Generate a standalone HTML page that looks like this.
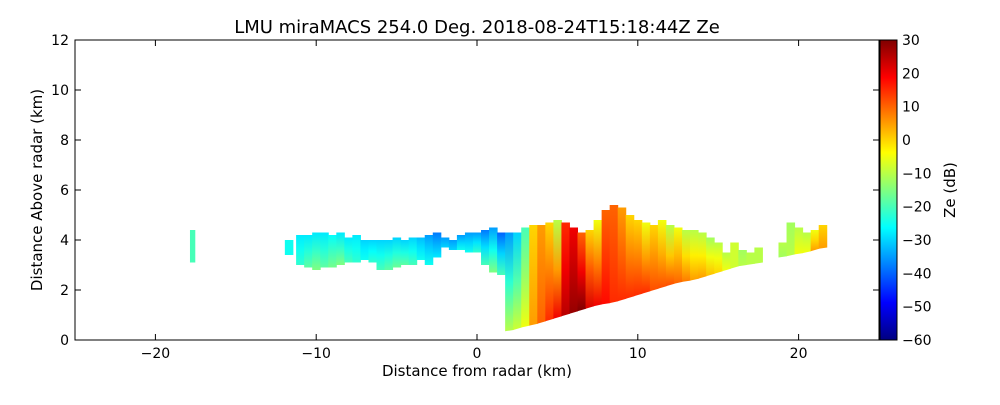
<!DOCTYPE html>
<html><head><meta charset="utf-8"><style>
body{margin:0;background:#fff;font-family:"Liberation Sans","DejaVu Sans",sans-serif}
svg text{font-family:"DejaVu Sans","Liberation Sans",sans-serif}
</style></head><body>
<svg id="c" width="1000" height="400" xmlns="http://www.w3.org/2000/svg">
<defs id="defs"></defs>
<text x="477" y="33" font-size="18" text-anchor="middle">LMU miraMACS 254.0 Deg. 2018-08-24T15:18:44Z  Ze</text>
<g id="echo"></g>
<rect x="75" y="40" width="804" height="300" fill="none" stroke="#000" stroke-width="1"/>
<g id="axes"></g>
<text x="477" y="376" font-size="15" text-anchor="middle">Distance from radar (km)</text>
<text transform="translate(42,190) rotate(-90)" font-size="15" text-anchor="middle">Distance Above radar  (km)</text>
<rect id="cbar" x="880" y="40" width="17" height="300" stroke="#000" stroke-width="1"/>
<text transform="translate(955,190) rotate(-90)" font-size="15" text-anchor="middle">Ze (dB)</text>
</svg>
<script>
const xs=[-17.7,-11.7,-11,-10.5,-10,-9.5,-9,-8.5,-8,-7.5,-7,-6.5,-6,-5.5,-5,-4.5,-4,-3.5,-3,-2.5,-2,-1.5,-1,-0.5,0,0.5,1,1.5,2,2.5,3,3.5,4,4.5,5,5.5,6,6.5,7,7.5,8,8.5,9,9.5,10,10.5,11,11.5,12,12.5,13,13.5,14,14.5,15,15.5,16,16.5,17,17.5,19,19.5,20,20.5,21,21.5];
const bottoms=[3.1,3.4,3.0,2.9,2.8,2.9,2.9,3.0,3.1,3.1,3.2,3.1,2.8,2.8,2.9,3.0,3.0,3.2,3.0,3.3,3.7,3.6,3.6,3.5,3.5,3.0,2.7,2.6,0.35,0.45,0.55,0.6,0.7,0.8,0.9,1.0,1.1,1.2,1.3,1.4,1.45,1.5,1.6,1.7,1.8,1.9,2.0,2.1,2.2,2.3,2.35,2.4,2.5,2.6,2.7,2.8,2.9,3.0,3.0,3.1,3.3,3.4,3.45,3.5,3.6,3.7];
const tops=[4.4,4.0,4.2,4.2,4.3,4.3,4.2,4.3,4.1,4.2,4.0,4.0,4.0,4.0,4.1,4.0,4.1,4.1,4.2,4.3,4.1,4.0,4.2,4.3,4.3,4.4,4.5,4.3,4.3,4.3,4.5,4.6,4.6,4.7,4.8,4.7,4.5,4.3,4.4,4.8,5.2,5.4,5.3,5.0,4.8,4.7,4.6,4.8,4.6,4.5,4.4,4.4,4.3,4.1,3.9,3.5,3.9,3.6,3.5,3.7,3.9,4.7,4.5,4.3,4.4,4.6];
const zeBottom=[-20,-25,-22,-18,-15,-18,-16,-15,-20,-22,-25,-22,-20,-18,-17,-18,-20,-25,-25,-28,-30,-30,-25,-25,-22,-20,-15,-20,-10,-8,-5,5,10,15,20,25,28,30,22,20,18,15,15,15,15,15,12,12,12,10,8,5,5,2,0,-5,-8,-10,-10,-10,-12,-10,-5,-5,5,5];
const zeTop=[-20,-25,-28,-28,-28,-28,-26,-28,-28,-28,-30,-30,-30,-30,-30,-30,-30,-32,-35,-38,-35,-35,-35,-35,-35,-38,-35,-40,-35,-30,-20,0,5,0,-10,15,20,10,0,-5,10,10,5,0,0,-5,0,-5,-10,-5,-10,-10,-10,-12,-10,-10,-8,-12,-10,-10,-10,-12,-10,-10,-5,0];
const xTicks=[-20,-10,0,10,20];
const yTicks=[0,2,4,6,8,10,12];
const cTicks=[30,20,10,0,-10,-20,-30,-40,-50,-60];

const NS="http://www.w3.org/2000/svg";
const X=v=>75+(v+25)*804/50;
const Y=v=>340-v*25;
const C=v=>340-(v+60)*300/90;
function jet(z){let t=Math.max(0,Math.min(1,(z+60)/90));const f=a=>Math.round(255*Math.max(0,Math.min(1,1.5-Math.abs(4*t-a))));return `rgb(${f(3)},${f(2)},${f(1)})`;}
function mk(tag,attrs,parent){const e=document.createElementNS(NS,tag);for(const k in attrs)e.setAttribute(k,attrs[k]);parent.appendChild(e);return e;}
const defs=document.getElementById('defs'),echo=document.getElementById('echo'),axes=document.getElementById('axes');
const cg=mk('linearGradient',{id:'cbg',x1:0,y1:1,x2:0,y2:0},defs);
for(let i=0;i<=8;i++)mk('stop',{offset:i/8,'stop-color':jet(-60+90*i/8)},cg);
document.getElementById('cbar').setAttribute('fill','url(#cbg)');
xs.forEach((x,i)=>{
 const w=i===0?0.3:0.5;
 const near=j=>j>=0&&j<xs.length&&Math.abs(xs[j]-x)<0.6&&xs[j]>=2&&x>=2;
 const bl=near(i-1)?(bottoms[i]+bottoms[i-1])/2:bottoms[i];
 const br=near(i+1)?(bottoms[i]+bottoms[i+1])/2:bottoms[i];
 const g=mk('linearGradient',{id:'g'+i,gradientUnits:'userSpaceOnUse',x1:0,y1:Y(Math.min(bl,br)),x2:0,y2:Y(tops[i])},defs);
 mk('stop',{offset:0,'stop-color':jet(zeBottom[i])},g);
 mk('stop',{offset:0.5,'stop-color':jet((zeBottom[i]+zeTop[i])/2)},g);
 mk('stop',{offset:1,'stop-color':jet(zeTop[i])},g);
 const x0=X(x-w/2),x1=X(x+w/2)+0.5;
 const p=mk('polygon',{points:`${x0},${Y(tops[i])} ${x1},${Y(tops[i])} ${x1},${Y(br)} ${x0},${Y(bl)}`,fill:'url(#g'+i+')'},echo);
 
 
});
xTicks.forEach(v=>{
 mk('line',{x1:X(v),x2:X(v),y1:340,y2:334,stroke:'#000'},axes);
 mk('line',{x1:X(v),x2:X(v),y1:40,y2:46,stroke:'#000'},axes);
 const t=mk('text',{x:X(v),y:358,'font-size':14,'text-anchor':'middle'},axes);t.textContent=v<0?'\u2212'+(-v):v;
 
 
});
yTicks.forEach(v=>{
 mk('line',{x1:75,x2:81,y1:Y(v),y2:Y(v),stroke:'#000'},axes);
 mk('line',{x1:879,x2:873,y1:Y(v),y2:Y(v),stroke:'#000'},axes);
 const t=mk('text',{x:69,y:Y(v)+5,'font-size':14,'text-anchor':'end'},axes);t.textContent=v;
 
 
});
cTicks.forEach(v=>{
 mk('line',{x1:892,x2:897,y1:C(v),y2:C(v),stroke:'#000'},axes);
 const t=mk('text',{x:902,y:C(v)+5,'font-size':14},axes);t.textContent=v<0?'\u2212'+(-v):v;
 
 
});
</script>
</body></html>
